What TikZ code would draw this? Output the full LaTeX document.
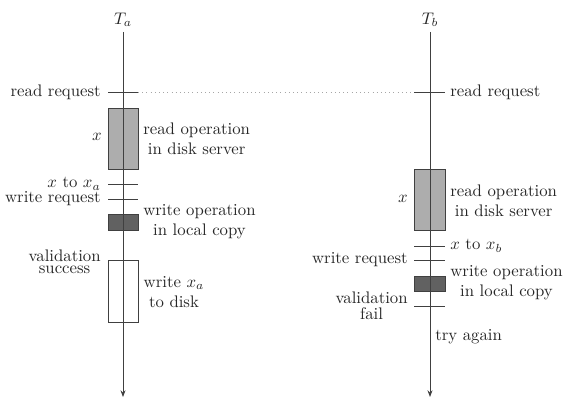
\documentclass[tikz,border=0pt]{standalone}
\usetikzlibrary{arrows.meta}
\begin{document}
\begin{tikzpicture}[x=0.597pt,y=-0.597pt,
  every node/.style={text=black!85},
  lbl/.style={inner sep=0pt, align=center},
  axisline/.style={draw=black!75, line width=0.5pt, -{Stealth[length=4pt,width=3pt]}},
  tick/.style={draw=black!75, line width=0.5pt},
  lightbox/.style={draw=black!75, line width=0.5pt, fill=black!32},
  darkbox/.style={draw=black!75, line width=0.5pt, fill=black!62},
  whitebox/.style={draw=black!75, line width=0.5pt, fill=white},
  sync/.style={draw=black!35, line width=0.5pt, dotted}]
\useasboundingbox (0,0) rectangle (565,399);
% boxes
\draw[lightbox] (108,108) rectangle (138,169);
\draw[darkbox] (108,214) rectangle (138,230);
\draw[whitebox] (108,260) rectangle (138,322);
\draw[lightbox] (414,169) rectangle (445,230);
\draw[darkbox] (414,276) rectangle (445,291);
% axes
\node[lbl] (Ta) at (123,20) {$T_a$};
\node[lbl] (Tb) at (430,20) {$T_b$};
\coordinate (Atop) at (123,32);
\coordinate (Abot) at (123,397);
\coordinate (Btop) at (430,32);
\coordinate (Bbot) at (430,397);
\draw[axisline] (Atop) -- (Abot);
\draw[axisline] (Btop) -- (Bbot);
% ticks Ta
\coordinate (a1l) at (108,92); \coordinate (a1r) at (138,92);
\coordinate (a2l) at (108,184); \coordinate (a2r) at (138,184);
\coordinate (a3l) at (108,199); \coordinate (a3r) at (138,199);
\draw[tick] (a1l) -- (a1r);
\draw[tick] (a2l) -- (a2r);
\draw[tick] (a3l) -- (a3r);
% ticks Tb
\coordinate (b1l) at (414,92); \coordinate (b1r) at (445,92);
\coordinate (b2l) at (414,246); \coordinate (b2r) at (445,246);
\coordinate (b3l) at (414,260); \coordinate (b3r) at (445,260);
\coordinate (b4l) at (414,306); \coordinate (b4r) at (445,306);
\draw[tick] (b1l) -- (b1r);
\draw[tick] (b2l) -- (b2r);
\draw[tick] (b3l) -- (b3r);
\draw[tick] (b4l) -- (b4r);
% dotted sync line
\draw[sync] (a1r) -- (b1l);
% labels Ta
\node[lbl, anchor=east] (ra) at (101,92) {read request};
\node[lbl] (xa) at (97,137) {$x$};
\node[lbl, anchor=west] (roa) at (143,139) {read operation\\in disk server};
\node[lbl, anchor=east] (xxa) at (101,184) {$x$ to $x_a$};
\node[lbl, anchor=east] (wra) at (101,199) {write request};
\node[lbl, anchor=west] (woa) at (143,222) {write operation\\in local copy};
\node[lbl, anchor=east] (vsa) at (101,262) {validation\\[-4.8pt]success};
\node[lbl] (wda) at (174,292) {write $x_a$\\to disk};
% labels Tb
\node[lbl, anchor=west] (rb) at (450,92) {read request};
\node[lbl] (xb) at (403,199) {$x$};
\node[lbl, anchor=west] (rob) at (450,201) {read operation\\in disk server};
\node[lbl, anchor=west] (xxb) at (450,246) {$x$ to $x_b$};
\node[lbl, anchor=east] (wrb) at (408,260) {write request};
\node[lbl, anchor=west] (wob) at (450,283) {write operation\\in local copy};
\node[lbl, anchor=east] (vfb) at (408,306) {validation\\[-2.4pt]fail};
\node[lbl, anchor=west] (tab) at (435,337) {try again};
\end{tikzpicture}
\end{document}
